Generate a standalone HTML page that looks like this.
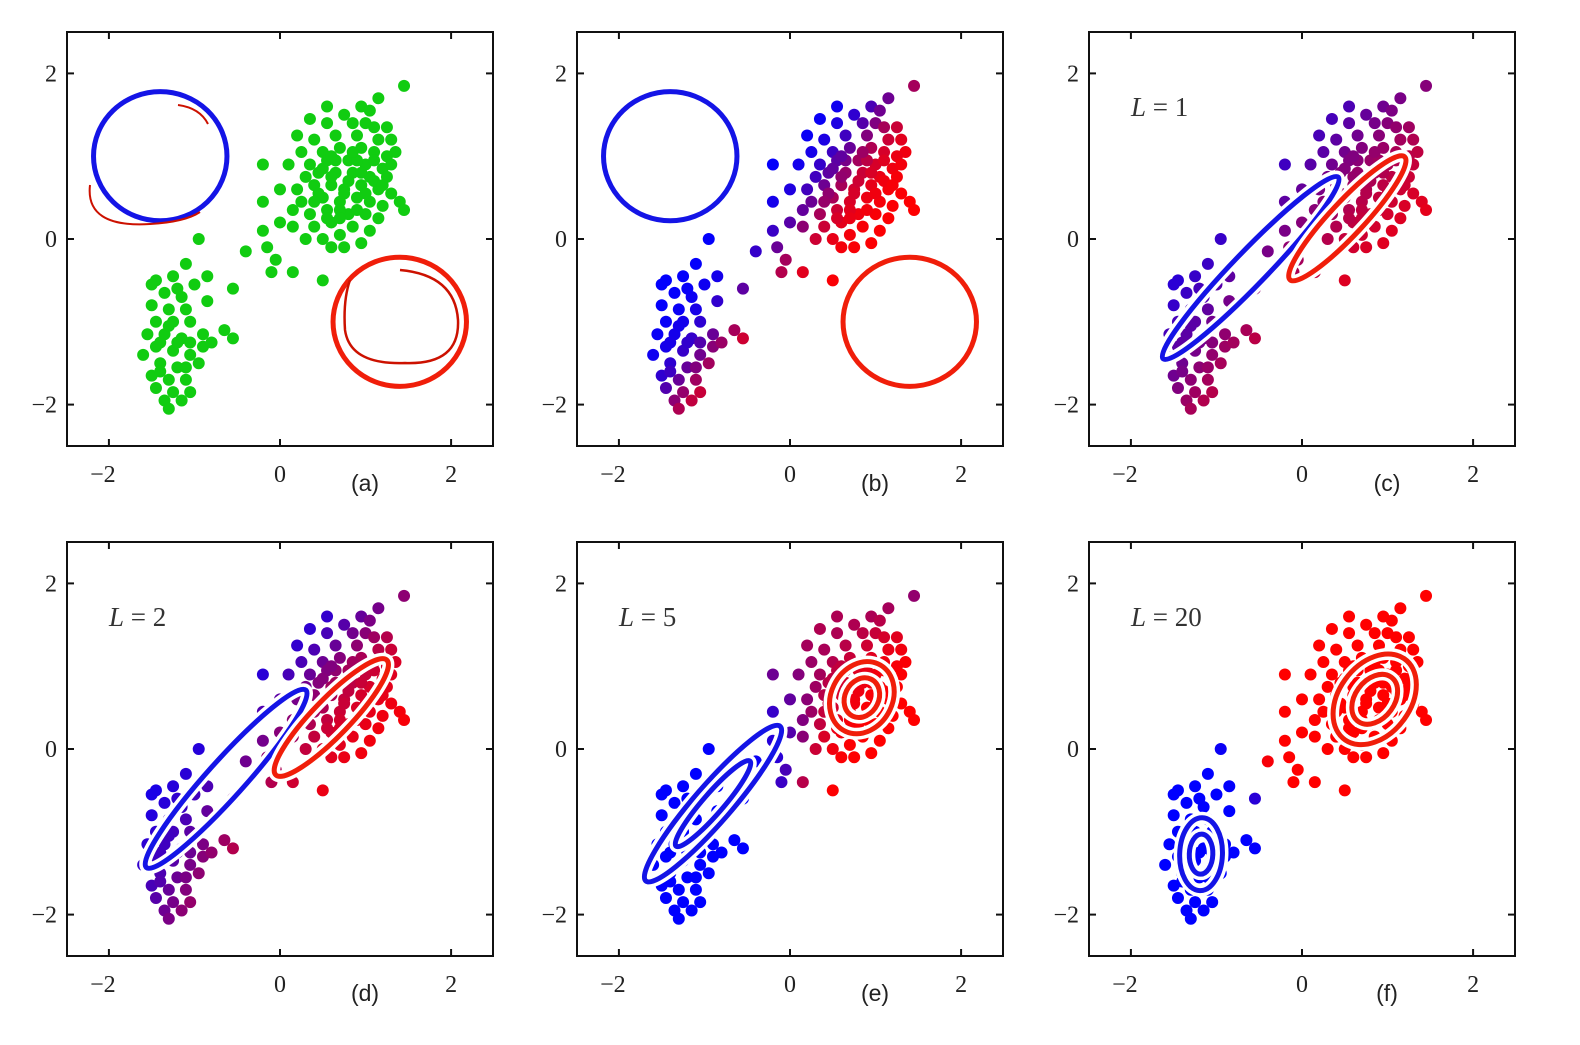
<!DOCTYPE html>
<html><head><meta charset="utf-8"><style>
html,body{margin:0;padding:0;background:#fff;}
svg{display:block;}
.tk{font-family:"Liberation Serif",serif;font-size:24px;fill:#222;}
.lb{font-family:"Liberation Sans",sans-serif;font-size:23px;fill:#222;}
.ll{font-family:"Liberation Serif",serif;font-size:27px;fill:#333;}
</style></head><body>
<svg id="fig" width="1580" height="1045" viewBox="0 0 1580 1045" xmlns="http://www.w3.org/2000/svg"></svg>
<script>
// ---- data ----
const upperX=[1.45,1.15,0.95,0.55,0.75,0.55,0.85,1.0,1.1,1.25,1.3,1.35,0.4,0.65,0.9,1.15,0.25,0.5,0.7,0.95,1.1,1.25,0.1,-0.2,0.35,0.55,0.8,1.0,1.2,0.3,0.45,0.65,0.85,1.05,1.25,0.0,0.2,0.4,0.6,0.75,0.95,1.15,1.3,0.25,0.5,0.7,0.9,1.05,1.2,1.4,1.45,-0.2,0.35,0.55,0.8,1.0,1.15,0.15,0.4,0.6,0.85,1.05,0.0,-0.2,0.3,0.5,0.7,0.95,0.6,0.75,-0.15,-0.05,-0.1,0.15,0.5,-0.4,0.45,0.65,0.35,0.2,1.05,0.15,0.9,0.55,1.3,0.6,0.8,1.0,0.7,0.9,1.1,0.5,0.75,0.95,0.6,0.85,1.2,0.4,1.1,0.7];
const upperY=[1.85,1.7,1.6,1.6,1.5,1.4,1.4,1.4,1.35,1.35,1.2,1.05,1.2,1.25,1.25,1.2,1.05,1.05,1.1,1.1,1.05,1.0,0.9,0.9,0.9,0.95,0.95,0.9,0.85,0.75,0.8,0.8,0.8,0.75,0.75,0.6,0.6,0.65,0.65,0.6,0.65,0.6,0.55,0.45,0.5,0.45,0.5,0.45,0.4,0.45,0.35,0.45,0.3,0.35,0.3,0.3,0.25,0.15,0.15,0.2,0.15,0.1,0.2,0.1,0.0,0.0,0.05,-0.05,-0.1,-0.1,-0.1,-0.25,-0.4,-0.4,-0.5,-0.15,0.55,0.95,1.45,1.25,1.55,0.35,0.95,0.25,0.9,0.75,0.7,0.55,0.35,0.35,0.7,0.85,0.55,0.8,1.0,1.05,0.65,0.45,0.95,0.25];
const lowerX=[-0.95,-1.1,-1.25,-1.45,-1.0,-0.85,-0.55,-1.35,-1.15,-1.5,-1.3,-1.1,-0.85,-1.45,-1.25,-1.05,-1.55,-1.35,-1.15,-0.9,-0.65,-0.55,-1.45,-1.25,-1.05,-1.6,-1.4,-1.2,-0.95,-1.5,-1.3,-1.1,-1.45,-1.25,-1.05,-1.35,-1.3,-1.15,-1.5,-0.9,-1.2,-1.4,-1.05,-0.8,-1.3,-1.2,-1.4,-1.1];
const lowerY=[0.0,-0.3,-0.45,-0.5,-0.55,-0.45,-0.6,-0.65,-0.7,-0.8,-0.85,-0.85,-0.75,-1.0,-1.0,-1.0,-1.15,-1.15,-1.2,-1.15,-1.1,-1.2,-1.3,-1.35,-1.4,-1.4,-1.5,-1.55,-1.5,-1.65,-1.7,-1.7,-1.8,-1.85,-1.85,-1.95,-2.05,-1.95,-0.55,-1.3,-0.6,-1.25,-1.25,-1.25,-1.05,-1.25,-1.6,-1.55];
const tickVals=[-2,0,2];
const tickLabels=["\u22122","0","2"];
const panelLabels=["(a)","(b)","(c)","(d)","(e)","(f)"];
const iterLabels=["","","L = 1","L = 2","L = 5","L = 20"];
// gaussian components per panel: [cx, cy, semiMajor, semiMinor, angleDeg]
const blueComp=[[-1.4,1.0,0.78,0.78,0],[-1.4,1.0,0.78,0.78,0],[-0.6,-0.35,1.5,0.2,47],[-0.63,-0.36,1.42,0.22,49],[-0.9,-0.66,1.22,0.22,50],[-1.18,-1.27,0.44,0.25,88]];
const redComp=[[1.4,-1.0,0.78,0.78,0],[1.4,-1.0,0.78,0.78,0],[0.53,0.25,1.0,0.2,48],[0.6,0.38,0.95,0.22,47],[0.84,0.62,0.45,0.36,65],[0.85,0.6,0.6,0.42,55]];
const covInflate=[1,1,5,3,1.6,1];
// ---- layout ----
const NS="http://www.w3.org/2000/svg";
const svg=document.getElementById('fig');
const colL=[67,577,1089], rowT=[32,542], PW=426, PH=414;
function mk(tag,attrs,parent){const e=document.createElementNS(NS,tag);for(const k in attrs)e.setAttribute(k,attrs[k]);(parent||svg).appendChild(e);return e;}
const ptsX=upperX.concat(lowerX), ptsY=upperY.concat(lowerY);
function cov(c,inf){const t=c[4]*Math.PI/180,co=Math.cos(t),si=Math.sin(t),a2=c[2]*c[2]*inf,b2=c[3]*c[3]*inf;
 return [co*co*a2+si*si*b2,co*si*(a2-b2),si*si*a2+co*co*b2];}
function dens(x,y,c,inf){const S=cov(c,inf),det=S[0]*S[2]-S[1]*S[1];const dx=x-c[0],dy=y-c[1];
 const q=(S[2]*dx*dx-2*S[1]*dx*dy+S[0]*dy*dy)/det;return Math.exp(-0.5*q)/Math.sqrt(det);}
for(let p=0;p<6;p++){
 const ox=colL[p%3], oy=rowT[Math.floor(p/3)];
 const sx=v=>ox+(v+2.49)/4.98*PW, sy=v=>oy+(2.5-v)/5*PH;
 const kx=PW/4.98, ky=PH/5;
 const g=mk('g',{});
 
 
 const cp=mk('clipPath',{id:'cp'+p},g);mk('rect',{x:ox,y:oy,width:PW,height:PH},cp);
 const plot=mk('g',{'clip-path':'url(#cp'+p+')'},g);
 for(let i=0;i<ptsX.length;i++){
  let col;
  if(p===0) col='#11cc11';
  else{const db=dens(ptsX[i],ptsY[i],blueComp[p],covInflate[p]),dr=dens(ptsX[i],ptsY[i],redComp[p],covInflate[p]);
   const r=dr/(db+dr+1e-300);col='rgb('+Math.round(255*r)+',0,'+Math.round(255*(1-r))+')';}
  const c=mk('circle',{cx:sx(ptsX[i]),cy:sy(ptsY[i]),r:6,fill:col},plot);
  
  
 }
 [[blueComp[p],'#1414e6','blue'],[redComp[p],'#f01e0a','red']].forEach(([c,color,nm])=>{
  const scales=(p<2)?[1]:(p<4?[1]:[1,0.55]);
  scales.forEach(s=>{
   const tg=mk('g',{transform:'translate('+sx(c[0])+','+sy(c[1])+') scale('+kx+','+(-ky)+') rotate('+c[4]+')'},plot);
   if(p>=2){
    mk('ellipse',{cx:0,cy:0,rx:c[2]*s,ry:c[3]*s,fill:'none',stroke:'#fff','stroke-width':12,'vector-effect':'non-scaling-stroke'},tg);
   }
   const e=mk('ellipse',{cx:0,cy:0,rx:c[2]*s,ry:c[3]*s,fill:'none',stroke:color,'stroke-width':p<2?5:5,'vector-effect':'non-scaling-stroke'},tg);
   
   
  });
 });
 if(p===0){
  const a1=mk('path',{d:'M178,105 Q200,108 208,124',fill:'none',stroke:'#cc1100','stroke-width':2},plot);
  
  
  const a2=mk('path',{d:'M90,185 Q85,228 150,224 Q185,222 200,212',fill:'none',stroke:'#cc1100','stroke-width':2},plot);
  
  
  const a3=mk('path',{d:'M400,270 Q455,275 458,320 Q460,365 405,363 Q350,365 345,330 Q343,300 350,280',fill:'none',stroke:'#cc1100','stroke-width':2.5},plot);
  
  
 }
 const fr=mk('rect',{x:ox,y:oy,width:PW,height:PH,fill:'none',stroke:'#111','stroke-width':2},g);
 
 
 tickVals.forEach((v,i)=>{
  mk('line',{x1:sx(v),x2:sx(v),y1:oy+PH,y2:oy+PH-7,stroke:'#111','stroke-width':2},g);
  mk('line',{x1:sx(v),x2:sx(v),y1:oy,y2:oy+7,stroke:'#111','stroke-width':2},g);
  mk('line',{x1:ox,x2:ox+7,y1:sy(v),y2:sy(v),stroke:'#111','stroke-width':2},g);
  mk('line',{x1:ox+PW,x2:ox+PW-7,y1:sy(v),y2:sy(v),stroke:'#111','stroke-width':2},g);
  const tx=mk('text',{x:sx(v)-(v<0?6:0),y:oy+PH+36,'text-anchor':'middle',class:'tk'},g);
  tx.textContent=tickLabels[i];
  
  
  const ty=mk('text',{x:ox-10,y:sy(v)+8,'text-anchor':'end',class:'tk'},g);
  ty.textContent=tickLabels[i];
  
  
 });
 const pl=mk('text',{x:ox+298,y:oy+PH+45,'text-anchor':'middle',class:'lb'},g);
 pl.textContent=panelLabels[p];
 
 
 if(iterLabels[p]){
  const il=mk('text',{x:ox+42,y:oy+84,class:'ll'},g);
  il.innerHTML='<tspan font-style="italic">L</tspan> = '+iterLabels[p].split(' = ')[1];
  
  
 }
}
</script>
</body></html>
